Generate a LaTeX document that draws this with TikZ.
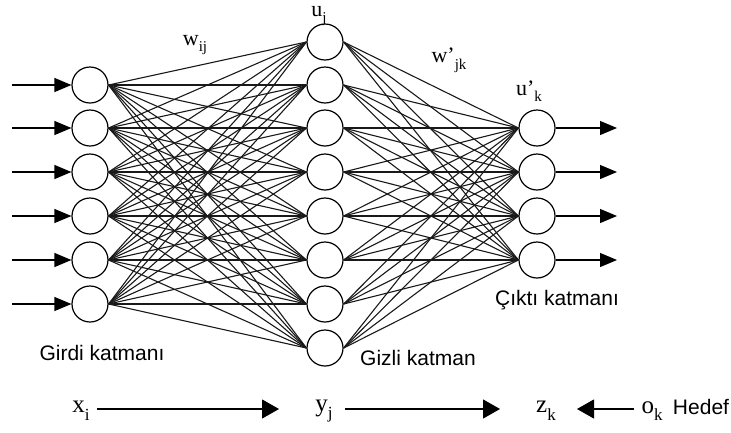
\documentclass[tikz,border=0pt]{standalone}
\usepackage{fontspec}
\setmainfont{Liberation Serif}
\newfontfamily\arialf{Liberation Sans}
\usetikzlibrary{arrows.meta}
\newcommand\lowsub[1]{\raisebox{-0.3em}{\fontsize{15}{15}\selectfont #1}}
\newcommand\lowsubb[1]{\raisebox{-0.3em}{\fontsize{17}{17}\selectfont #1}}
\begin{document}
\begin{tikzpicture}[x=1pt,y=-1pt,
  neuron/.style={circle,draw,line width=1.2pt,minimum size=36pt,inner sep=0pt,fill=white},
  link/.style={line width=1.1pt,black!90},
  inarrow/.style={line width=1.2pt,-{Triangle[length=17pt,width=14pt]}},
  bigarrow/.style={line width=1.2pt,-{Triangle[length=17pt,width=19pt]}},
  layerlabel/.style={font=\arialf\fontsize{21}{24}\selectfont,inner sep=0pt},
  sym/.style={font=\fontsize{22}{24}\selectfont,inner sep=0pt},
  bsym/.style={font=\fontsize{25}{27}\selectfont,inner sep=0pt}]
\useasboundingbox (0,0) rectangle (731,432);
% neurons
\foreach \i/\y in {1/85,2/128,3/172,4/216,5/260,6/304}
  \node[neuron] (i\i) at (90,\y) {};
\foreach \j/\y in {1/42,2/85,3/128,4/172,5/216,6/260,7/304,8/348}
  \node[neuron] (h\j) at (325,\y) {};
\foreach \k/\y in {1/128,2/172,3/216,4/260}
  \node[neuron] (o\k) at (537,\y) {};
% links
\foreach \i in {1,...,6}
  \foreach \j in {1,...,8}
    \draw[link] (i\i.east) -- (h\j.west);
\foreach \j in {1,...,8}
  \foreach \k in {1,...,4}
    \draw[link] (h\j.east) -- (o\k.west);
% input and output arrows
\foreach \i/\y in {1/85,2/128,3/172,4/216,5/260,6/304}{
  \coordinate (s\i) at (12,\y);
  \draw[inarrow] (s\i) -- (i\i.west);}
\foreach \k/\y in {1/128,2/172,3/216,4/260}{
  \coordinate (e\k) at (617,\y);
  \draw[inarrow] (o\k.east) -- (e\k);}
% labels
\node[sym] (uj) at (319,16) {u\lowsub{j}};
\node[sym] (wij) at (195,45) {w\lowsub{ij}};
\node[sym] (wjk) at (449,60) {w\textquoteright\lowsub{jk}};
\node[sym] (uk) at (529,91) {u\textquoteright\lowsub{k}};
\node[layerlabel] (girdi) at (102,353) {Girdi katmanı};
\node[layerlabel] (gizli) at (418,358) {Gizli katman};
\node[layerlabel] (cikti) at (557,300) {Çıktı katmanı};
% bottom row
\node[bsym] (xi) at (81,411) {x\lowsubb{i}};
\node[bsym] (yj) at (324,411) {y\lowsubb{j}};
\node[bsym] (zk) at (546,411) {z\lowsubb{k}};
\node[bsym] (ok) at (652,411) {o\lowsubb{k}};
\node[layerlabel] (hedef) at (701,407) {Hedef};
\coordinate (a1s) at (97,409);
\coordinate (a1e) at (279,409);
\coordinate (a2s) at (345,409);
\coordinate (a2e) at (500,409);
\coordinate (a3s) at (634,409);
\coordinate (a3e) at (577,409);
\draw[bigarrow] (a1s) -- (a1e);
\draw[bigarrow] (a2s) -- (a2e);
\draw[bigarrow] (a3s) -- (a3e);
\end{tikzpicture}
\end{document}
